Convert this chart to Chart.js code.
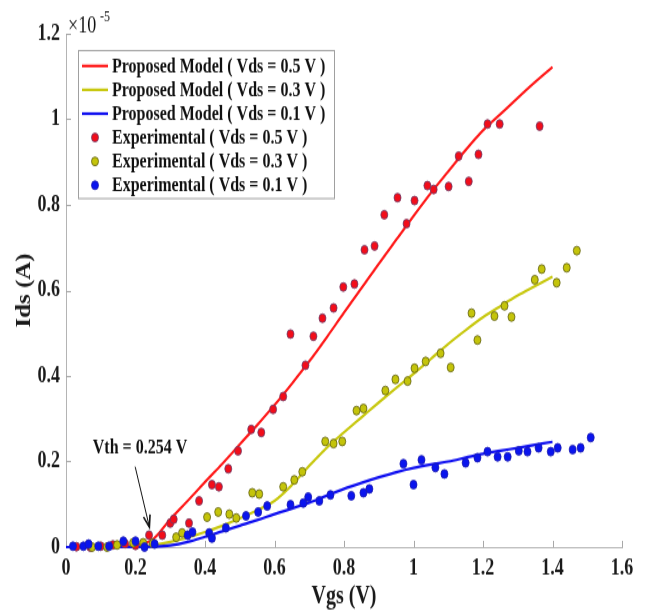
<!DOCTYPE html>
<html>
<head>
<meta charset="utf-8">
<script src="https://cdn.jsdelivr.net/npm/chart.js@4/dist/chart.umd.min.js"></script>
<style>
  html, body { margin: 0; padding: 0; background: #fff; }
  #outer { width: 646px; height: 612px; overflow: hidden; position: relative; }
  /* the reference picture is stretched vertically, so the canvas is too */
  #wrap { position: absolute; left: 0; top: 0; width: 646px; height: 490px; transform: scaleY(1.249); transform-origin: 0 0; }
</style>
</head>
<body>
<div id="outer"><div id="wrap"><canvas id="chart" width="646" height="490"></canvas></div></div>
<script>
// Vgs grid of the model curves
const vgsModel = [0, 0.05, 0.1, 0.15, 0.2, 0.25, 0.3, 0.35, 0.4, 0.45, 0.5, 0.55, 0.6, 0.65, 0.7,
    0.75, 0.8, 0.85, 0.9, 0.95, 1.0, 1.05, 1.1, 1.15, 1.2, 1.25, 1.3, 1.35, 1.4];
// Ids of the model, units of 1e-5 A
const idsModel05 = [0, 0, 0.001, 0.002, 0.005, 0.018, 0.065, 0.108, 0.152, 0.195, 0.24, 0.285, 0.332, 0.382, 0.434,
    0.49, 0.548, 0.605, 0.662, 0.718, 0.774, 0.828, 0.878, 0.928, 0.974, 1.012, 1.05, 1.087, 1.122];
const idsModel03 = [0, 0, 0, 0.001, 0.002, 0.005, 0.012, 0.022, 0.035, 0.05, 0.067, 0.086, 0.108, 0.145, 0.19,
    0.232, 0.268, 0.303, 0.338, 0.372, 0.405, 0.44, 0.475, 0.507, 0.537, 0.563, 0.588, 0.61, 0.632];
const idsModel01 = [0, 0, 0, 0, 0, 0.001, 0.004, 0.012, 0.024, 0.037, 0.05, 0.063, 0.077, 0.09, 0.104,
    0.12, 0.136, 0.15, 0.163, 0.175, 0.185, 0.193, 0.2, 0.209, 0.218, 0.225, 0.232, 0.239, 0.246];

// experimental points
const vgsExp05 = [0.03, 0.07, 0.10, 0.135, 0.17, 0.20, 0.239, 0.277, 0.30, 0.31, 0.354, 0.383, 0.42, 0.44,
    0.467, 0.495, 0.533, 0.562, 0.596, 0.625, 0.646, 0.689, 0.712, 0.738, 0.77, 0.798, 0.83, 0.859, 0.888,
    0.916, 0.954, 0.98, 1.003, 1.04, 1.058, 1.101, 1.13, 1.159, 1.187, 1.213, 1.248, 1.363];
const idsExp05 = [0.001, 0.0, 0.002, 0.005, 0.008, 0.004, 0.028, 0.028, 0.056, 0.065, 0.056, 0.108, 0.146, 0.141,
    0.183, 0.225, 0.275, 0.268, 0.322, 0.352, 0.498, 0.425, 0.493, 0.535, 0.559, 0.608, 0.615, 0.695, 0.704,
    0.777, 0.817, 0.756, 0.81, 0.845, 0.836, 0.843, 0.914, 0.855, 0.918, 0.989, 0.989, 0.984];

const vgsExp03 = [0.075, 0.118, 0.147, 0.193, 0.222, 0.25, 0.317, 0.334, 0.406, 0.438, 0.47, 0.49, 0.536, 0.556,
    0.625, 0.657, 0.68, 0.746, 0.77, 0.795, 0.836, 0.856, 0.919, 0.948, 0.983, 1.003, 1.035, 1.078, 1.107,
    1.167, 1.184, 1.233, 1.262, 1.282, 1.349, 1.369, 1.412, 1.441, 1.47];
const idsExp03 = [0.0, 0.0, 0.005, 0.01, 0.01, 0.009, 0.023, 0.033, 0.07, 0.082, 0.077, 0.068, 0.127, 0.124,
    0.141, 0.157, 0.176, 0.247, 0.242, 0.247, 0.319, 0.324, 0.366, 0.392, 0.388, 0.418, 0.434, 0.453, 0.42,
    0.547, 0.484, 0.54, 0.564, 0.538, 0.625, 0.65, 0.618, 0.653, 0.693];

const vgsExp01 = [0.02, 0.05, 0.065, 0.093, 0.124, 0.165, 0.2, 0.226, 0.255, 0.35, 0.364, 0.412, 0.42, 0.46,
    0.518, 0.553, 0.579, 0.646, 0.683, 0.697, 0.729, 0.761, 0.821, 0.856, 0.873, 0.971, 1.0, 1.023, 1.063,
    1.089, 1.15, 1.184, 1.213, 1.242, 1.271, 1.303, 1.328, 1.36, 1.395, 1.415, 1.458, 1.481, 1.51];
const idsExp01 = [0.002, 0.002, 0.007, 0.002, 0.002, 0.014, 0.014, 0.0, 0.007, 0.028, 0.035, 0.033, 0.021, 0.045,
    0.073, 0.082, 0.096, 0.099, 0.103, 0.117, 0.108, 0.122, 0.12, 0.127, 0.136, 0.195, 0.146, 0.204, 0.186,
    0.171, 0.197, 0.209, 0.223, 0.211, 0.211, 0.225, 0.223, 0.232, 0.223, 0.232, 0.228, 0.232, 0.256];

const xTicks = [0, 0.2, 0.4, 0.6, 0.8, 1.0, 1.2, 1.4, 1.6];
const yTicks = [0, 0.2, 0.4, 0.6, 0.8, 1.0, 1.2];

const labels = [
    'Proposed Model ( Vds = 0.5 V )',
    'Proposed Model ( Vds = 0.3 V )',
    'Proposed Model ( Vds = 0.1 V )',
    'Experimental ( Vds = 0.5 V )',
    'Experimental ( Vds = 0.3 V )',
    'Experimental ( Vds = 0.1 V )'
];

// annotation: text anchor, arrow tail and tip in data units
const vthText = 'Vth = 0.254 V';
const vthTextAt = [0.213, 0.232];
const vthArrowFrom = [0.199, 0.188];
const vthArrowTo = [0.24, 0.047];

const serif = '"Liberation Serif", "Times New Roman", serif';
const pts = (xs, ys) => xs.map((x, i) => ({x: x, y: ys[i]}));

function modelSet(label, ys, color, order) {
    return {
        label: label, data: pts(vgsModel, ys), showLine: true,
        borderColor: color, backgroundColor: color, borderWidth: 2.2,
        pointRadius: 0, cubicInterpolationMode: 'monotone', clip: false, order: order
    };
}
function expSet(label, xs, ys, fill, edge, order) {
    return {
        label: label, data: pts(xs, ys), showLine: false,
        pointRadius: 3.5, pointBackgroundColor: fill, pointBorderColor: edge,
        pointBorderWidth: 0.8, backgroundColor: fill, borderColor: edge, clip: false, order: order
    };
}

const datasets = [
    modelSet(labels[0], idsModel05, '#ff1a1a', 5),
    modelSet(labels[1], idsModel03, '#c8c810', 4),
    modelSet(labels[2], idsModel01, '#1010f0', 3),
    expSet(labels[3], vgsExp05, idsExp05, '#f20d1a', '#6b3d6b', 2),
    expSet(labels[4], vgsExp03, idsExp03, '#c4c40a', '#5e5e14', 1),
    expSet(labels[5], vgsExp01, idsExp01, '#0a14ee', '#1a1ab0', 0)
];

// MATLAB style ticks pointing into the axes
const inwardTicks = {
    id: 'inwardTicks',
    beforeDatasetsDraw(chart) {
        const {ctx, chartArea, scales: {x, y}} = chart;
        ctx.save();
        ctx.strokeStyle = '#a8a8a8';
        ctx.lineWidth = 1;
        x.ticks.forEach(t => {
            const px = Math.round(x.getPixelForValue(t.value)) + 0.5;
            ctx.beginPath();
            ctx.moveTo(px, chartArea.bottom);
            ctx.lineTo(px, chartArea.bottom - 5);
            ctx.stroke();
        });
        y.ticks.forEach(t => {
            const py = Math.round(y.getPixelForValue(t.value)) + 0.5;
            ctx.beginPath();
            ctx.moveTo(chartArea.left, py);
            ctx.lineTo(chartArea.left + 5, py);
            ctx.stroke();
        });
        ctx.restore();
    }
};

// boxed legend inside the plot, top left
const boxLegend = {
    id: 'boxLegend',
    afterDraw(chart) {
        const {ctx, chartArea} = chart;
        const left = chartArea.left + 12, top = chartArea.top + 13;
        const w = 256, rowH = 19.1, h = 118.5;
        ctx.save();
        ctx.fillStyle = '#fff';
        ctx.fillRect(left, top, w, h);
        ctx.strokeStyle = '#a0a0a0';
        ctx.lineWidth = 1;
        ctx.strokeRect(left + 0.5, top + 0.5, w, h);
        ctx.font = 'bold 16px ' + serif;
        ctx.textBaseline = 'middle';
        ctx.fillStyle = '#111';
        chart.data.datasets.forEach((ds, i) => {
            const cy = top + 12.8 + i * rowH;
            if (ds.showLine) {
                ctx.strokeStyle = ds.borderColor;
                ctx.lineWidth = 2.2;
                ctx.beginPath();
                ctx.moveTo(left + 4, cy);
                ctx.lineTo(left + 30, cy);
                ctx.stroke();
            } else {
                ctx.fillStyle = ds.pointBackgroundColor;
                ctx.strokeStyle = ds.pointBorderColor;
                ctx.lineWidth = 0.8;
                ctx.beginPath();
                ctx.arc(left + 17, cy, 3.5, 0, Math.PI * 2);
                ctx.fill();
                ctx.stroke();
            }
            ctx.fillStyle = '#111';
            ctx.fillText(ds.label, left + 34, cy + 1);
        });
        ctx.restore();
    }
};

// x10^-5 multiplier and the Vth arrow
const extras = {
    id: 'extras',
    afterDraw(chart) {
        const {ctx, chartArea, scales: {x, y}} = chart;
        ctx.save();
        ctx.fillStyle = '#111';
        ctx.textBaseline = 'alphabetic';
        ctx.font = '18px ' + serif;
        ctx.fillText('\u00d710', chartArea.left + 2, chartArea.top - 1);
        ctx.font = '12px ' + serif;
        ctx.fillText('-5', chartArea.left + 34, chartArea.top - 10);

        ctx.font = 'bold 16px ' + serif;
        ctx.textAlign = 'center';
        ctx.textBaseline = 'middle';
        ctx.fillText(vthText, x.getPixelForValue(vthTextAt[0]), y.getPixelForValue(vthTextAt[1]));

        const x0 = x.getPixelForValue(vthArrowFrom[0]), y0 = y.getPixelForValue(vthArrowFrom[1]);
        const x1 = x.getPixelForValue(vthArrowTo[0]), y1 = y.getPixelForValue(vthArrowTo[1]);
        const a = Math.atan2(y1 - y0, x1 - x0);
        ctx.strokeStyle = '#111';
        ctx.lineWidth = 1;
        ctx.beginPath();
        ctx.moveTo(x0, y0);
        ctx.lineTo(x1, y1);
        ctx.stroke();
        ctx.lineWidth = 1.6;
        ctx.beginPath();
        ctx.moveTo(x1 - 10 * Math.cos(a - 0.35), y1 - 10 * Math.sin(a - 0.35));
        ctx.lineTo(x1, y1);
        ctx.lineTo(x1 - 10 * Math.cos(a + 0.35), y1 - 10 * Math.sin(a + 0.35));
        ctx.stroke();
        ctx.restore();
    }
};

const fmt = v => String(Math.round(v * 10) / 10);
const tickFont = {family: serif, size: 18, weight: 'bold'};
const titleFont = {family: serif, size: 20, weight: 'bold'};

var ctx = document.getElementById('chart').getContext('2d');
const config = {
    type: 'scatter',
    data: {datasets},
    options: {
        responsive: false,
        animation: false,
        devicePixelRatio: 1,
        layout: {padding: {top: 27, right: 24, left: 0, bottom: 0}},
        plugins: {
            legend: {display: false},
            tooltip: {enabled: false}
        },
        scales: {
            x: {
                type: 'linear', min: 0, max: 1.6,
                afterBuildTicks: s => { s.ticks = xTicks.map(v => ({value: v})); },
                afterFit: s => { s.height = 52; },
                ticks: {callback: fmt, font: tickFont, color: '#1a1a1a', padding: 7, maxRotation: 0, autoSkip: false},
                grid: {display: false, drawTicks: false},
                border: {display: true, color: '#b4b4b4', width: 1},
                title: {display: true, text: 'Vgs (V)', font: titleFont, color: '#1a1a1a', padding: {top: 0, bottom: 0}}
            },
            y: {
                type: 'linear', min: 0, max: 1.2,
                afterBuildTicks: s => { s.ticks = yTicks.map(v => ({value: v})); },
                afterFit: s => { s.width = 66; },
                ticks: {callback: fmt, font: tickFont, color: '#1a1a1a', padding: 6, autoSkip: false},
                grid: {display: false, drawTicks: false},
                border: {display: true, color: '#b4b4b4', width: 1},
                title: {display: true, text: 'Ids (A)', font: titleFont, color: '#1a1a1a', padding: {top: 13, bottom: 0}}
            }
        }
    },
    plugins: [inwardTicks, boxLegend, extras]
};
myChart = new Chart(ctx, config);
</script>
</body>
</html>
